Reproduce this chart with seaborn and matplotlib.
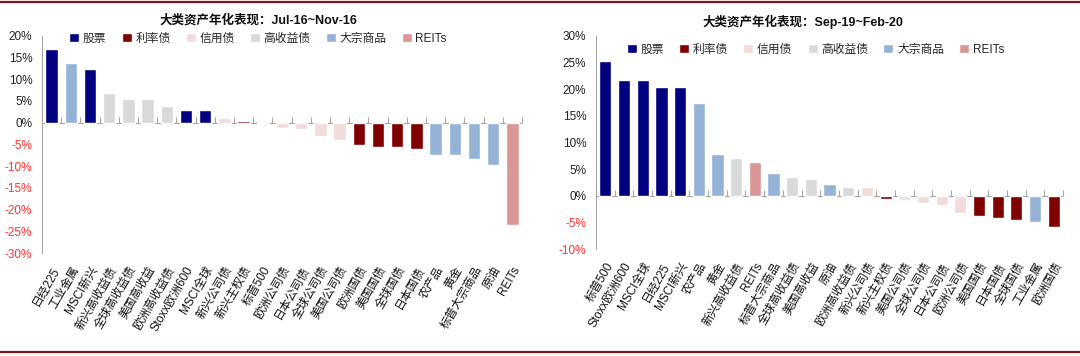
import numpy as np
import pandas as pd
import matplotlib
matplotlib.use("Agg")
import matplotlib.pyplot as plt
from matplotlib.lines import Line2D
import seaborn as sns

# asset classes and their colours
kinds = ["股票", "利率债", "信用债", "高收益债", "大宗商品", "REITs"]
kind_colors = ["#000080", "#800000", "#F2DCDB", "#D9D9D9", "#95B3D7", "#D99694"]

# Jul-16 ~ Nov-16
names_1 = ["日经225", "工业金属", "MSCI新兴", "新兴高收益债", "全球高收益债", "美国高收益",
           "欧洲高收益债", "Stoxx欧洲600", "MSCI全球", "新兴公司债", "新兴主权债", "标普500",
           "欧洲公司债", "日本公司债", "全球公司债", "美国公司债", "欧洲国债", "美国国债",
           "全球国债", "日本国债", "农产品", "黄金", "标普大宗商品", "原油", "REITs"]
values_1 = [17.0, 13.6, 12.4, 6.8, 5.5, 5.5, 3.9, 3.0, 3.0, 1.1, 0.4, -0.3,
            -1.2, -1.5, -3.0, -4.0, -5.2, -5.7, -5.7, -6.1, -7.4, -7.5, -8.3, -9.8, -23.4]
kinds_1 = ["股票", "大宗商品", "股票", "高收益债", "高收益债", "高收益债", "高收益债", "股票",
           "股票", "信用债", "利率债", "股票", "信用债", "信用债", "信用债", "信用债", "利率债",
           "利率债", "利率债", "利率债", "大宗商品", "大宗商品", "大宗商品", "大宗商品", "REITs"]

# Sep-19 ~ Feb-20
names_2 = ["标普500", "Stoxx欧洲600", "MSCI全球", "日经225", "MSCI新兴", "农产品", "黄金",
           "新兴高收益债", "REITs", "标普大宗商品", "全球高收益债", "美国高收益", "原油",
           "欧洲高收益债", "新兴公司债", "新兴主权债", "美国公司债", "全球公司债", "日本公司债",
           "欧洲公司债", "美国国债", "日本国债", "全球国债", "工业金属", "欧洲国债"]
values_2 = [25.3, 21.7, 21.7, 20.5, 20.4, 17.5, 7.9, 7.2, 6.3, 4.3, 3.6, 3.1, 2.3,
            1.75, 1.7, -0.6, -0.8, -1.4, -1.6, -3.1, -3.7, -4.2, -4.5, -4.9, -5.75]
kinds_2 = ["股票", "股票", "股票", "股票", "股票", "大宗商品", "大宗商品", "高收益债", "REITs",
           "大宗商品", "高收益债", "高收益债", "大宗商品", "高收益债", "信用债", "利率债",
           "信用债", "信用债", "信用债", "信用债", "利率债", "利率债", "利率债", "大宗商品",
           "利率债"]

sns.set_style("white")
plt.rcParams["font.family"] = ["Liberation Sans", "Noto Sans CJK SC", "DejaVu Sans"]

fig = plt.figure(figsize=(10.8, 3.56), dpi=100)
ax1 = fig.add_axes([0.0389, 0.2885, 0.4444, 0.6115])
ax2 = fig.add_axes([0.5519, 0.2997, 0.4324, 0.5992])

palette = dict(zip(kinds, kind_colors))
axis_grey = "#A6A6A6"


def draw(ax, names, values, types, ylim, title, title_xy, leg_anchor):
    df = pd.DataFrame({"name": names, "value": values, "kind": types})
    sns.barplot(data=df, x="name", y="value", hue="kind", order=names,
                hue_order=kinds, palette=palette, dodge=False, width=0.65,
                saturation=1, ax=ax, zorder=2)
    ax.set_xlabel("")
    ax.set_ylabel("")
    ax.set_xlim(-0.5, len(names) - 0.5)
    ax.set_ylim(*ylim)
    yt = np.arange(ylim[0], ylim[1] + 1, 5)
    ax.set_yticks(yt)
    ax.set_yticklabels([f"{v}%" for v in yt], fontsize=8.5)
    for lab, v in zip(ax.get_yticklabels(), yt):
        lab.set_color("#FF3333" if v < 0 else "#222222")
    ax.tick_params(axis="y", direction="out", length=4, color=axis_grey, pad=3)
    ax.set_xticks(range(len(names)))
    ax.set_xticklabels(names, rotation=60, ha="right", rotation_mode="anchor",
                       fontsize=8.5, color="#111111")
    ax.tick_params(axis="x", length=0, pad=8)
    for s in ["top", "right", "bottom"]:
        ax.spines[s].set_visible(False)
    ax.spines["left"].set_color(axis_grey)
    ax.spines["left"].set_linewidth(0.8)

    # zero line with category boundary ticks pointing up
    ax.axhline(0, color=axis_grey, linewidth=0.8, zorder=1)
    bounds = np.arange(len(names) + 1) - 0.5
    ax.plot(bounds, np.zeros(len(bounds)), linestyle="none", marker=2,
            markersize=4, markeredgewidth=0.8, color=axis_grey, zorder=1,
            clip_on=False)

    handles, labels = ax.get_legend_handles_labels()
    ax.legend(handles, labels, loc="center", bbox_to_anchor=leg_anchor, ncol=6,
              frameon=False, fontsize=8.5, handlelength=0.85, handleheight=0.85,
              handletextpad=0.3, columnspacing=1.3)
    fig.text(title_xy[0], title_xy[1], title, ha="center", va="center",
             fontsize=9, fontweight="bold", color="#111111")


draw(ax1, names_1, values_1, kinds_1, (-30, 20), "大类资产年化表现：Jul-16~Nov-16",
     (258 / 1080, 1 - 20 / 356), (0.45, 0.985))
draw(ax2, names_2, values_2, kinds_2, (-10, 30), "大类资产年化表现：Sep-19~Feb-20",
     (803 / 1080, 1 - 22 / 356), (0.47, 0.935))

# dark red rules at top and bottom
for yy in [1 - 2 / 356, 1 - 352 / 356]:
    fig.add_artist(Line2D([0, 1], [yy, yy], transform=fig.transFigure,
                          color="#7B1A1A", linewidth=1.6))

fig.savefig("out.png", dpi=100)
